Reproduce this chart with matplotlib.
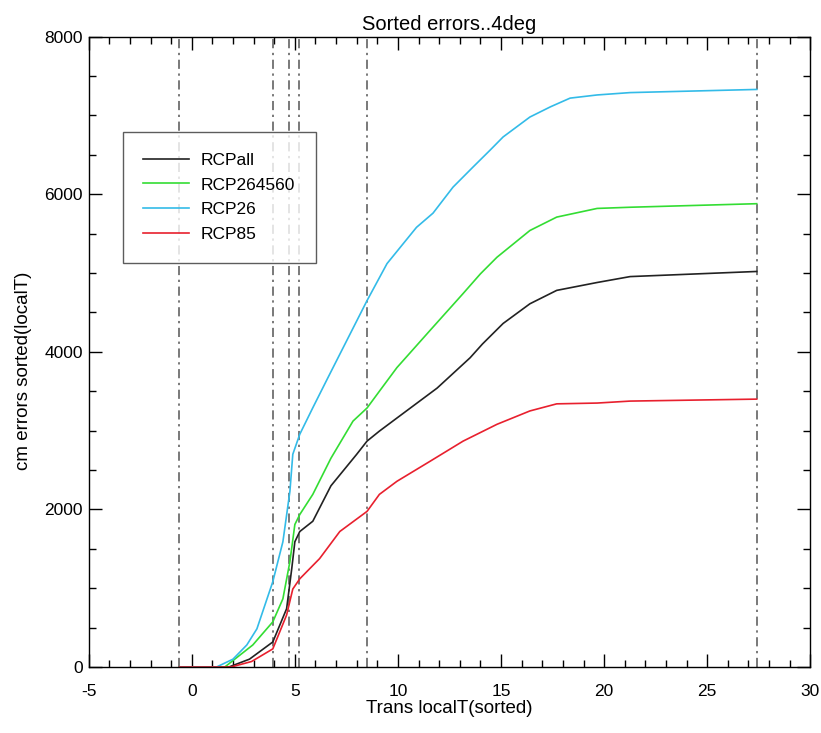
import numpy as np
import matplotlib
matplotlib.use('Agg')
import matplotlib.pyplot as plt
from matplotlib.ticker import MultipleLocator

plt.rcParams['font.family'] = ['Liberation Sans', 'DejaVu Sans']
plt.rcParams['axes.unicode_minus'] = False

# Sorted error curves
x_all = [-0.6, 1.8, 2.8, 3.93, 4.6, 4.85, 5.0, 5.24, 5.87, 6.75, 8.0, 8.5, 9.1, 9.95,
         11.9, 13.5, 14.1, 15.1, 16.4, 17.7, 19.66, 21.26, 27.4]
y_all = [0, 0, 100, 318, 740, 1250, 1590, 1720, 1850, 2300, 2700, 2867, 2994, 3160,
         3540, 3925, 4100, 4360, 4610, 4780, 4880, 4955, 5020]

x_mid = [-0.6, 1.6, 2.96, 3.93, 4.42, 4.76, 5.0, 5.24, 5.87, 6.75, 7.82, 8.5, 9.1,
         9.95, 11.55, 13.16, 14.0, 14.8, 16.4, 17.7, 19.66, 21.26, 27.4]
y_mid = [0, 0, 280, 573, 866, 1338, 1809, 1936, 2191, 2650, 3121, 3287, 3500,
         3800, 4270, 4740, 4990, 5200, 5540, 5710, 5820, 5835, 5880]

x_26 = [-0.6, 1.2, 2.0, 2.67, 3.16, 3.93, 4.42, 4.76, 4.9, 5.24, 5.87, 6.6, 8.5, 9.47,
        10.9, 11.7, 12.67, 13.64, 14.47, 15.1, 16.4, 17.4, 18.35, 19.66, 21.26, 27.4]
y_26 = [0, 0, 100, 280, 485, 1083, 1590, 2230, 2700, 2955, 3290, 3670, 4650, 5120,
        5580, 5760, 6090, 6345, 6560, 6727, 6980, 7110, 7220, 7260, 7290, 7330]

x_85 = [-0.6, 1.9, 2.9, 3.93, 4.6, 4.9, 5.24, 6.2, 7.18, 8.5, 9.1, 9.95, 11.55, 13.16,
        14.8, 16.4, 17.7, 19.66, 21.26, 27.4]
y_85 = [0, 0, 70, 230, 660, 990, 1120, 1376, 1720, 1975, 2191, 2357, 2610, 2867,
        3080, 3250, 3340, 3350, 3375, 3400]

# dash-dot markers along x
vlines_x = [-0.6, 3.93, 4.7, 5.2, 8.5, 27.4]

fig = plt.figure(figsize=(8.21, 7.33), dpi=100)
ax = fig.add_axes([0.108, 0.090, 0.879, 0.860])

for xv in vlines_x:
    ax.axvline(xv, color='#555555', lw=1.1, linestyle=(0, (6, 3, 1.5, 3)))

ax.plot(x_all, y_all, color='#222222', lw=1.2, label='RCPall')
ax.plot(x_mid, y_mid, color='#33dd33', lw=1.2, label='RCP264560')
ax.plot(x_26, y_26, color='#33bbe8', lw=1.2, label='RCP26')
ax.plot(x_85, y_85, color='#e8202e', lw=1.2, label='RCP85')

ax.set_xlim(-5, 30)
ax.set_ylim(0, 8000)
ax.xaxis.set_major_locator(MultipleLocator(5))
ax.xaxis.set_minor_locator(MultipleLocator(1))
ax.yaxis.set_major_locator(MultipleLocator(2000))
ax.yaxis.set_minor_locator(MultipleLocator(500))
ax.tick_params(which='both', direction='in', top=True, right=True, labelsize=12.5)
ax.tick_params(which='major', length=9.5, width=1)
ax.tick_params(which='minor', length=5, width=1)
ax.tick_params(axis='x', pad=12)
ax.tick_params(axis='y', pad=4)
for sp in ax.spines.values():
    sp.set_linewidth(1)

ax.set_title('Sorted errors..4deg', fontsize=14.5, pad=5)
ax.set_xlabel('Trans localT(sorted)', fontsize=13.5, labelpad=1)
ax.set_ylabel('cm errors sorted(localT)', fontsize=13.5)
ax.yaxis.set_label_coords(-0.078, 0.47)

leg = ax.legend(loc='upper left', bbox_to_anchor=(0.047, 0.849), fontsize=12.5,
                frameon=True, fancybox=False, edgecolor='#333333',
                handlelength=2.6, handletextpad=0.7, labelspacing=0.55,
                borderpad=1.2, borderaxespad=0)
leg.get_frame().set_linewidth(1)

fig.savefig('out.png', dpi=100)
